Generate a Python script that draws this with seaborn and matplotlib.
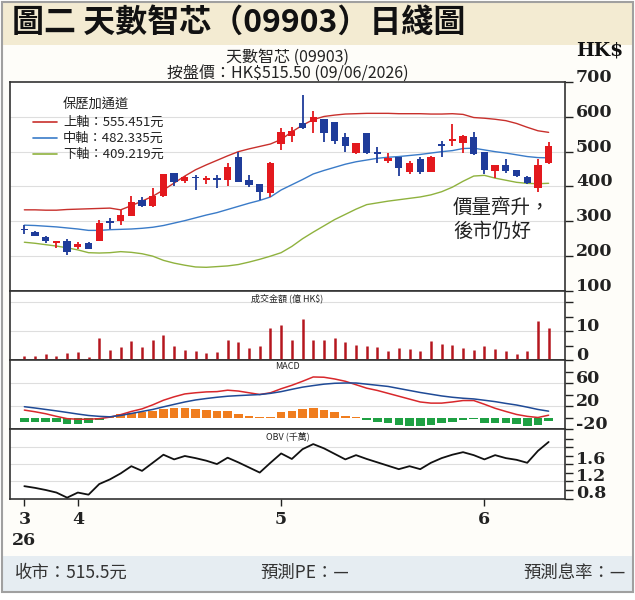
import matplotlib
matplotlib.use("Agg")
import matplotlib.pyplot as plt
import seaborn as sns
from matplotlib.patches import Rectangle
from matplotlib.lines import Line2D

sns.set_theme(style="white")
plt.rcParams['font.family'] = ['Noto Sans CJK TC', 'DejaVu Sans']

# ---- data (one entry per trading day, 25/3 - 9/6/2026) ----
opens = [278.2, 269.7, 254.4, 238.0, 244.9, 225.9, 238.2, 244.9, 300.1, 300.1,
         314.4, 360.1, 343.0, 371.6, 438.2, 414.4, 427.8, 419.2, 424.9, 417.3,
         485.9, 417.3, 407.8, 381.1, 521.1, 544.9, 583.0, 585.9, 593.4, 583.9,
         543.0, 495.3, 554.4, 498.1, 474.3, 483.9, 442.9, 478.1, 442.9, 522.0,
         530.5, 525.8, 542.9, 498.1, 444.8, 462.0, 447.7, 428.6, 395.3, 466.7]
highs = [288.7, 273.5, 257.3, 242.5, 249.6, 240.1, 241.0, 304.9, 309.7, 333.5,
         371.6, 369.7, 395.4, 437.0, 440.1, 430.6, 433.5, 430.6, 433.5, 466.8,
         500.1, 433.5, 408.0, 471.6, 566.8, 569.7, 662.0, 617.3, 593.4, 584.0,
         554.4, 525.8, 554.4, 512.4, 495.3, 484.0, 474.3, 485.8, 487.7, 531.5,
         579.1, 547.7, 557.2, 498.1, 462.0, 478.1, 447.7, 431.5, 478.1, 528.6]
lows = [264.9, 257.3, 238.2, 224.0, 203.0, 219.2, 219.2, 243.0, 278.2, 290.6,
        314.0, 341.1, 341.1, 369.7, 402.0, 409.6, 390.6, 407.8, 395.4, 400.1,
        412.0, 398.2, 362.0, 369.7, 504.9, 528.7, 566.0, 552.5, 528.7, 522.0,
        500.1, 493.4, 492.5, 468.6, 466.7, 430.5, 436.2, 436.2, 441.0, 485.8,
        516.2, 495.3, 490.5, 435.3, 423.9, 438.1, 428.6, 407.7, 382.9, 466.0]
closes = [274.4, 259.2, 243.0, 242.0, 211.6, 235.4, 221.1, 295.4, 295.4, 317.3,
          354.4, 343.0, 373.5, 435.4, 411.6, 426.8, 423.9, 423.0, 420.1, 457.3,
          412.5, 404.9, 383.0, 466.8, 557.3, 560.1, 566.8, 598.2, 552.5, 530.6,
          516.3, 523.9, 495.3, 492.4, 481.0, 452.4, 466.7, 442.9, 485.8, 516.2,
          535.3, 544.8, 493.4, 447.7, 462.0, 444.8, 430.5, 409.6, 462.0, 515.5]

# Bollinger bands
upper = [333, 333, 332, 332, 334, 335, 336, 337, 338, 333,
         345, 358, 372, 390, 410, 430, 448, 462, 475, 488,
         500, 508, 515, 522, 535, 557, 576, 592, 601, 605,
         608, 609, 610, 610, 610, 609, 609, 609, 608, 608,
         609, 607, 598, 596, 593, 589, 581, 570, 560, 555.451]
middle = [289, 288, 286, 284, 281, 278, 274, 274, 276, 277,
          278, 280, 283, 288, 295, 302, 310, 318, 325, 334,
          343, 352, 360, 370, 390, 405, 420, 436, 446, 455,
          464, 471, 476, 481, 484, 486, 489, 492, 496, 500,
          503, 509, 510, 505, 500, 496, 491, 486, 483, 482.335]
lower = [240, 237, 233, 229, 224, 218, 210, 209, 210, 213,
         211, 207, 200, 188, 180, 174, 169, 168, 170, 172,
         176, 183, 191, 200, 210, 228, 250, 269, 287, 305,
         320, 335, 348, 353, 358, 362, 366, 370, 376, 385,
         398, 415, 430, 432, 424, 418, 412, 409, 408, 409.219]

# turnover (HK$ 100m)
turnover = [1.4, 1.4, 2.0, 1.3, 2.3, 2.6, 1.2, 7.7, 3.4, 4.5,
            6.6, 4.5, 6.8, 8.6, 4.8, 3.6, 3.1, 2.4, 2.8, 6.9,
            6.1, 4.3, 4.9, 11.1, 12.1, 7.0, 14.1, 7.0, 6.8, 7.5,
            6.2, 5.2, 4.8, 4.4, 3.0, 4.3, 3.8, 3.2, 6.6, 5.4,
            5.3, 4.3, 3.6, 4.7, 3.9, 3.1, 2.0, 3.1, 13.6, 10.9]

# MACD
dif = [12.9, 10.0, 6.5, 2.0, -2.0, -3.0, -3.0, -2.0, 0.6, 5.0,
       10.5, 15.0, 22.0, 30.0, 36.0, 41.0, 43.0, 44.5, 45.0, 47.5,
       46.0, 43.0, 40.0, 43.0, 50.0, 56.0, 63.0, 70.5, 70.0, 67.0,
       63.0, 57.0, 51.0, 47.0, 42.0, 37.0, 32.0, 27.0, 25.0, 25.0,
       27.0, 29.5, 29.5, 23.0, 16.0, 10.5, 5.3, 2.0, 0.0, 4.0]
dea = [18.8, 16.5, 14.0, 11.5, 8.8, 6.0, 3.5, 2.0, 1.2, 3.5,
       7.0, 10.5, 14.0, 18.5, 22.8, 27.0, 30.5, 33.0, 35.2, 37.0,
       38.1, 39.0, 39.9, 42.0, 45.0, 49.0, 52.8, 55.5, 58.0, 59.5,
       60.0, 60.0, 58.0, 56.0, 54.0, 50.5, 47.0, 43.5, 40.5, 37.5,
       35.2, 33.5, 32.3, 30.0, 27.6, 24.5, 21.7, 18.0, 14.0, 11.0]
macd_hist = [-7.0, -7.0, -7.0, -7.0, -11.2, -11.2, -10.0, -4.1, 2.9, 5.9,
             7.1, 8.8, 11.2, 14.7, 15.9, 15.9, 14.7, 12.9, 11.2, 11.2,
             5.9, 2.9, 0.5, 1.2, 10.0, 11.8, 14.1, 15.9, 12.9, 8.8,
             2.9, 0.6, -4.1, -7.0, -10.0, -12.9, -14.7, -14.7, -12.9, -8.8,
             -7.0, -4.1, -2.9, -8.8, -8.8, -10.0, -11.8, -14.7, -12.9, -5.9]

# OBV (10 million)
obv = [1.09, 1.05, 1.00, 0.94, 0.82, 0.94, 0.89, 1.14, 1.25, 1.39,
       1.56, 1.45, 1.64, 1.83, 1.72, 1.80, 1.75, 1.69, 1.61, 1.76,
       1.65, 1.53, 1.41, 1.64, 1.86, 1.73, 1.96, 2.08, 1.98, 1.85,
       1.72, 1.82, 1.73, 1.65, 1.57, 1.49, 1.56, 1.49, 1.64, 1.75,
       1.83, 1.89, 1.82, 1.72, 1.82, 1.75, 1.71, 1.64, 1.92, 2.13]

date_ticks = [0, 5, 24, 43]
date_labels = ['3\n26', '4', '5', '6']

days = list(range(len(closes)))

RED = '#e3191e'
BLUE = '#1f3c9a'
W, H = 635, 600


def fx(x):
    return x / W


def fy(y):
    return 1 - y / H


fig = plt.figure(figsize=(6.35, 6), dpi=100, facecolor='white')

# background blocks
fig.add_artist(Rectangle((fx(2), fy(592)), fx(631), 590 / H, transform=fig.transFigure,
                         facecolor='#fefdf9', edgecolor='none', zorder=-3))
fig.add_artist(Rectangle((fx(2), fy(45)), fx(631), 43 / H, transform=fig.transFigure,
                         facecolor='#f3ebd2', edgecolor='none', zorder=-2))
fig.add_artist(Rectangle((fx(2), fy(591)), fx(631), 35 / H, transform=fig.transFigure,
                         facecolor='#e6edf2', edgecolor='none', zorder=-2))
fig.add_artist(Rectangle((fx(2), fy(592)), fx(631), 590 / H, transform=fig.transFigure,
                         facecolor='none', edgecolor='#a0a0a0', lw=1.5, zorder=5))

# title & header texts
fig.text(fx(12), fy(23), '圖二 天數智芯（09903）日綫圖', fontsize=23, fontweight='bold',
         va='center', color='#111111')
fig.text(fx(288), fy(57), '天數智芯 (09903)', fontsize=11.5, ha='center', va='center', color='#222222')
fig.text(fx(288), fy(73), f'按盤價：HK${closes[-1]:.2f} (09/06/2026)', fontsize=11.5,
         ha='center', va='center', color='#222222')
fig.text(fx(600), fy(50), 'HK$', fontsize=13.5, fontweight='bold', family='DejaVu Serif',
         ha='center', va='center', color='#111111')

# footer
fig.text(fx(15), fy(573), f'收市：{closes[-1]:.1f}元', fontsize=12.5, va='center', color='#333333')
fig.text(fx(305), fy(573), '預測PE：—', fontsize=12.5, ha='center', va='center', color='#333333')
fig.text(fx(626), fy(573), '預測息率：—', fontsize=12.5, ha='right', va='center', color='#333333')

left, width = fx(10), 555 / W
ax_main = fig.add_axes([left, fy(291), width, 209 / H])
ax_vol = fig.add_axes([left, fy(360), width, 69 / H])
ax_macd = fig.add_axes([left, fy(429), width, 69 / H])
ax_obv = fig.add_axes([left, fy(498.5), width, 69.5 / H])

# ---- price panel ----
ax = ax_main
for lvl in [200, 300, 400, 500, 600]:
    ax.axhline(lvl, color='#dedede', lw=0.8, zorder=0)
sns.lineplot(x=days, y=upper, ax=ax, color='#c8302c', linewidth=1.0, zorder=2)
sns.lineplot(x=days, y=middle, ax=ax, color='#3a7bc8', linewidth=1.0, zorder=2)
sns.lineplot(x=days, y=lower, ax=ax, color='#8fb23e', linewidth=1.0, zorder=2)
for i in days:
    o, h, l, c = opens[i], highs[i], lows[i], closes[i]
    col = RED if c >= o else BLUE
    ax.vlines(i, l, h, color=col, lw=1.3, zorder=3)
    body = abs(c - o)
    bottom = min(o, c)
    if body < 5:
        bottom = (o + c) / 2 - 2.5
        body = 5
    ax.bar(i, body, bottom=bottom, width=0.68, color=col, zorder=4, linewidth=0)
ax.set_ylim(100, 700)
ax.set_yticks([100, 200, 300, 400, 500, 600, 700])

# legend
fig.text(fx(63), fy(104), '保歷加通道', fontsize=9.5, va='center', color='#222222')
for ypix, name, col, vals in [(122, '上軸', '#c8302c', upper), (138, '中軸', '#3a7bc8', middle),
                              (154, '下軸', '#8fb23e', lower)]:
    fig.add_artist(Line2D([fx(33), fx(57)], [fy(ypix), fy(ypix)], color=col, lw=1.2,
                          transform=fig.transFigure))
    fig.text(fx(63), fy(ypix), f'{name}：{vals[-1]:.3f}元', fontsize=9.5, va='center', color='#222222')

fig.text(fx(453), fy(197), '價量齊升，\n後市仍好', fontsize=14, va='top', ha='left',
         linespacing=1.15, color='#222222')

# ---- turnover panel ----
ax = ax_vol
for lvl in [10, 20]:
    ax.axhline(lvl, color='#dedede', lw=0.8, zorder=0)
ax.vlines(days, 0, turnover, color='#b5161e', lw=1.8, zorder=3)
ax.set_ylim(0, 23.8)
ax.set_yticks([0, 5, 10, 15, 20], ['0', '', '10', '', ''])
ax.text(0.5, 0.97, '成交金額 (億 HK$)', transform=ax.transAxes, ha='center', va='top',
        fontsize=6.5, color='#222222')

# ---- MACD panel ----
ax = ax_macd
for lvl in [20, 60]:
    ax.axhline(lvl, color='#dedede', lw=0.8, zorder=0)
hist_cols = ['#f07d1e' if v >= 0 else '#1ea043' for v in macd_hist]
ax.bar(days, macd_hist, width=0.8, color=hist_cols, linewidth=0, zorder=2)
sns.lineplot(x=days, y=dif, ax=ax, color='#d8282c', linewidth=1.1, zorder=3)
sns.lineplot(x=days, y=dea, ax=ax, color='#1f4a96', linewidth=1.1, zorder=3)
ax.set_ylim(-20, 100)
ax.set_yticks([-20, 0, 20, 40, 60, 80], ['-20', '', '20', '', '60', ''])
ax.text(0.5, 0.97, 'MACD', transform=ax.transAxes, ha='center', va='top',
        fontsize=6.5, color='#222222')

# ---- OBV panel ----
ax = ax_obv
for lvl in [1.2, 1.6, 2.0]:
    ax.axhline(lvl, color='#dedede', lw=0.8, zorder=0)
sns.lineplot(x=days, y=obv, ax=ax, color='#111111', linewidth=1.3, zorder=3)
ax.set_ylim(0.8, 2.435)
ax.set_yticks([0.8, 1.0, 1.2, 1.4, 1.6, 1.8, 2.0, 2.2], ['0.8', '', '1.2', '', '1.6', '', '', ''])
ax.text(0.5, 0.97, 'OBV (千萬)', transform=ax.transAxes, ha='center', va='top',
        fontsize=6.5, color='#222222')

# ---- shared styling ----
for ax in [ax_main, ax_vol, ax_macd, ax_obv]:
    ax.set_xlim(-1.34, 50.53)
    ax.set_facecolor('white')
    ax.set_xlabel('')
    ax.set_ylabel('')
    for sp in ax.spines.values():
        sp.set_color('#333333')
        sp.set_linewidth(1.2)
    ax.yaxis.tick_right()
    ax.tick_params(axis='y', direction='out', length=6, width=1.0, colors='#222222',
                   labelsize=12.5, pad=2, left=False, right=True)
    plt.setp(ax.get_yticklabels(), fontfamily='DejaVu Serif', fontweight='bold',
             va='baseline')
    if ax is not ax_obv:
        ax.set_xticks([])

ax_obv.set_xticks(date_ticks, date_labels)
ax_obv.tick_params(axis='x', direction='out', length=5, width=1.0, colors='#222222',
                   labelsize=12.5, pad=4, bottom=True)
plt.setp(ax_obv.get_xticklabels(), fontfamily='DejaVu Serif', fontweight='bold',
         linespacing=1.3)

fig.savefig('out.png', dpi=100, facecolor='white')
